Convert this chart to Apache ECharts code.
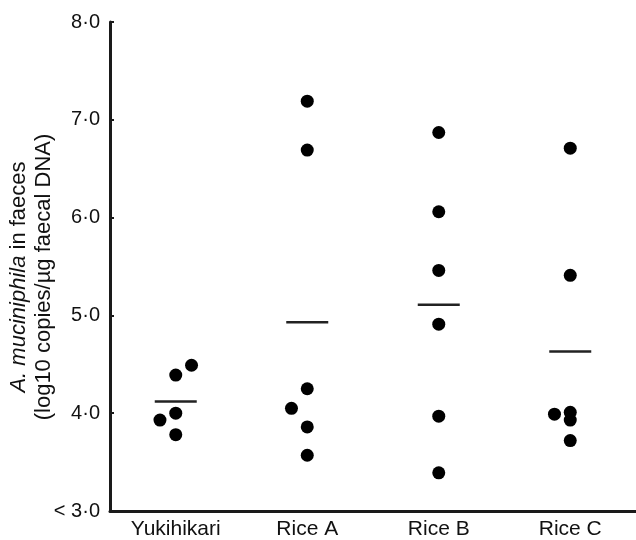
<!DOCTYPE html>
<html>
<head>
<meta charset="utf-8">
<script src="https://cdn.jsdelivr.net/npm/echarts@6/dist/echarts.min.js"></script>
<style>html,body{margin:0;padding:0;background:#fff}#c{width:636px;height:540px}</style>
</head>
<body>
<div id="c"></div>
<script>
var categories = ['Yukihikari', 'Rice A', 'Rice B', 'Rice C'];
var yukihikari = [4.49, 4.39, 4.00, 3.93, 3.78];
var yukihikariJitter = [0.12, 0, 0, -0.12, 0];
var riceA = [7.19, 6.69, 4.25, 4.05, 3.86, 3.57];
var riceAJitter = [0, 0, 0, -0.12, 0, 0];
var riceB = [6.87, 6.06, 5.46, 4.91, 3.97, 3.39];
var riceBJitter = [0, 0, 0, 0, 0, 0];
var riceC = [6.71, 5.41, 4.01, 3.99, 3.93, 3.72];
var riceCJitter = [0, 0, 0, -0.12, 0, 0];
var means = [4.12, 4.93, 5.11, 4.63];
var yTicks = [3, 4, 5, 6, 7, 8];
var yTickLabels = ['< 3·0', '4·0', '5·0', '6·0', '7·0', '8·0'];

var groups = [yukihikari, riceA, riceB, riceC];
var jitters = [yukihikariJitter, riceAJitter, riceBJitter, riceCJitter];
var points = [];
groups.forEach(function (g, gi) {
  g.forEach(function (v, i) { points.push([gi + jitters[gi][i], v]); });
});
var meanPts = means.map(function (m, i) { return [i, m]; });

var FONT = 'Liberation Sans, Arial, Helvetica, sans-serif';
var chart = echarts.init(document.getElementById('c'));
chart.setOption({
  animation: false,
  grid: { left: 110, right: -2, top: 22, bottom: 27 },
  xAxis: [{
    type: 'category', data: categories, boundaryGap: true,
    axisLine: { show: true, onZero: false, lineStyle: { color: '#1a1a1a', width: 3 } },
    axisTick: { show: false },
    axisLabel: { color: '#111', fontSize: 21, fontFamily: FONT, margin: 8 },
    splitLine: { show: false }
  }, {
    type: 'value', min: -0.5, max: 3.5, show: false
  }],
  yAxis: {
    type: 'value', min: 3, max: 8, interval: 1,
    axisLine: { show: true, onZero: false, lineStyle: { color: '#1a1a1a', width: 3 } },
    axisTick: { show: true, inside: true, length: 4, lineStyle: { color: '#1a1a1a', width: 2 } },
    axisLabel: {
      color: '#111', fontSize: 20, fontFamily: FONT, margin: 10,
      formatter: function (v) { var i = yTicks.indexOf(v); return i >= 0 ? yTickLabels[i] : ''; }
    },
    splitLine: { show: false }
  },
  graphic: [{
    type: 'text',
    x: 31, y: 277,
    rotation: Math.PI / 2,
    style: {
      text: '{i|A. muciniphila}{n| in faeces}\n{n|(log10 copies/µg faecal DNA)}',
      align: 'center', verticalAlign: 'middle',
      fill: '#111',
      rich: {
        i: { fontStyle: 'italic', fontSize: 22, fontFamily: FONT, fill: '#111', lineHeight: 25 },
        n: { fontSize: 22, fontFamily: FONT, fill: '#111', lineHeight: 25 }
      }
    }
  }],
  series: [{
    type: 'scatter', xAxisIndex: 1, data: points,
    symbol: 'circle', symbolSize: 13,
    itemStyle: { color: '#000', opacity: 1 }
  }, {
    type: 'scatter', xAxisIndex: 1, data: meanPts,
    symbol: 'rect', symbolSize: [42, 2.5],
    itemStyle: { color: '#222', opacity: 1 }
  }]
});
</script>
</body>
</html>
